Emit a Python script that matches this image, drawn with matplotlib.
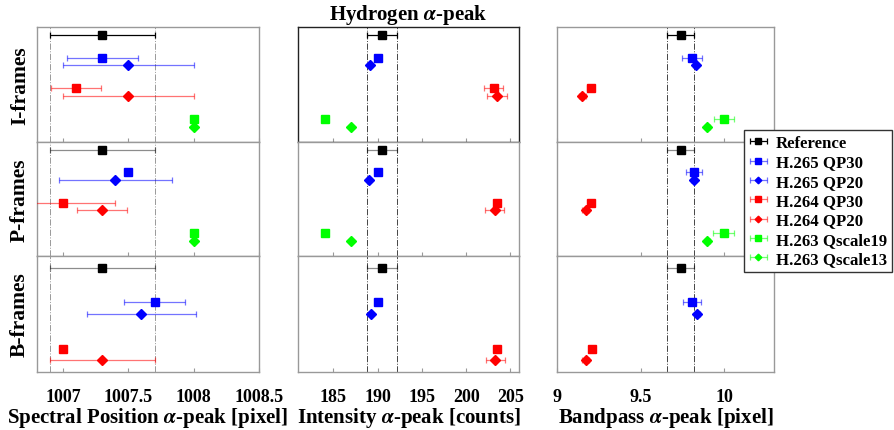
import matplotlib
matplotlib.use('Agg')
import matplotlib.pyplot as plt
from matplotlib.colors import to_rgba

# series (same order in every panel)
series_labels = ['Reference', 'H.265 QP30', 'H.265 QP20', 'H.264 QP30',
                 'H.264 QP20', 'H.263 Qscale19', 'H.263 Qscale13']
series_colors = ['black', 'blue', 'blue', 'red', 'red', '#00ff00', '#00ff00']
series_markers = ['s', 's', 'D', 's', 'D', 's', 'D']
row_slots = [1, 4, 5, 8, 9, 12, 13]
frame_labels = ['I-frames', 'P-frames', 'B-frames']

# spectral position [pixel]
pos_I = [1007.3, 1007.3, 1007.5, 1007.1, 1007.5, 1008.0, 1008.0]
pos_I_err = [0.4, 0.27, 0.5, 0.19, 0.5, 0.0, 0.0]
pos_P = [1007.3, 1007.5, 1007.4, 1007.0, 1007.3, 1008.0, 1008.0]
pos_P_err = [0.4, 0.0, 0.43, 0.4, 0.19, 0.0, 0.0]
pos_B = [1007.3, 1007.7, 1007.6, 1007.0, 1007.3]
pos_B_err = [0.4, 0.235, 0.42, 0.0, 0.4]

# intensity [counts]
int_I = [190.45, 190.0, 189.1, 203.1, 203.5, 184.0, 187.0]
int_I_err = [1.7, 0.1, 0.1, 1.05, 1.1, 0.1, 0.1]
int_P = [190.45, 190.0, 189.0, 203.5, 203.2, 184.0, 187.0]
int_P_err = [1.7, 0.1, 0.15, 0.3, 1.1, 0.1, 0.1]
int_B = [190.45, 190.0, 189.2, 203.5, 203.3]
int_B_err = [1.7, 0.1, 0.2, 0.3, 1.05]

# bandpass [pixel]
bp_I = [9.74, 9.81, 9.83, 9.20, 9.15, 10.0, 9.90]
bp_I_err = [0.083, 0.06, 0.015, 0.02, 0.02, 0.062, 0.015]
bp_P = [9.74, 9.82, 9.82, 9.20, 9.17, 10.0, 9.90]
bp_P_err = [0.083, 0.047, 0.015, 0.015, 0.02, 0.063, 0.015]
bp_B = [9.74, 9.81, 9.84, 9.21, 9.17]
bp_B_err = [0.083, 0.054, 0.015, 0.01, 0.02]

x_labels = ['Spectral Position $\\alpha$-peak [pixel]',
            'Intensity $\\alpha$-peak [counts]',
            'Bandpass $\\alpha$-peak [pixel]']
x_ticks = [[1007, 1007.5, 1008, 1008.5],
           [185, 190, 195, 200, 205],
           [9, 9.5, 10]]
x_ticklabels = [['1007', '1007.5', '1008', '1008.5'],
                ['185', '190', '195', '200', '205'],
                ['9', '9.5', '10']]
x_limits = [(1006.8, 1008.5), (181, 206), (9.0, 10.3)]

columns = [[(pos_I, pos_I_err), (pos_P, pos_P_err), (pos_B, pos_B_err)],
           [(int_I, int_I_err), (int_P, int_P_err), (int_B, int_B_err)],
           [(bp_I, bp_I_err), (bp_P, bp_P_err), (bp_B, bp_B_err)]]

plt.rcParams['font.family'] = ['Liberation Serif', 'DejaVu Serif']
plt.rcParams['font.weight'] = 'bold'
plt.rcParams['mathtext.fontset'] = 'stix'

W, H = 894, 431
fig = plt.figure(figsize=(W / 100, H / 100), dpi=100)

col_left = [37, 298, 557.3]
col_right = [259, 519.3, 774]
row_edge = [28, 143, 257, 373]
vline_color = ['#999999', '#444444', '#444444']

legend_handles = None
for c in range(3):
    for r in range(3):
        ax = fig.add_axes([col_left[c] / W, 1 - row_edge[r + 1] / H,
                           (col_right[c] - col_left[c]) / W,
                           (row_edge[r + 1] - row_edge[r]) / H])
        vals, errs = columns[c][r]
        # band of the reference value
        ax.axvline(vals[0] - errs[0], color=vline_color[c], ls='-.', lw=0.7, zorder=1)
        ax.axvline(vals[0] + errs[0], color=vline_color[c], ls='-.', lw=0.7, zorder=1)
        handles = []
        for i in range(len(vals)):
            ealpha = 1.0 if (i == 0 and r == 0) else (0.45 if i == 0 else 0.55)
            h = ax.errorbar(vals[i], row_slots[i], xerr=errs[i],
                            fmt=series_markers[i], color=series_colors[i],
                            ecolor=to_rgba(series_colors[i], ealpha),
                            ms=5.5 if series_markers[i] == 's' else 4.8,
                            elinewidth=0.9, capsize=2.5, capthick=0.9, zorder=3)
            handles.append(h)
        if legend_handles is None:
            legend_handles = handles
        ax.set_xlim(*x_limits[c])
        ax.set_ylim(15 if len(vals) == 7 else 10, 0)
        ax.set_yticks([])
        ax.set_xticks(x_ticks[c])
        ax.tick_params(axis='x', direction='in', length=3, color='#999999',
                       pad=11.5, labelsize=13)
        if r == 2:
            ax.set_xticklabels(x_ticklabels[c])
            ax.set_xlabel(x_labels[c], fontsize=15, fontweight='bold', labelpad=0)
        else:
            ax.set_xticklabels([])
        spine_col = '#222222' if (c == 1 and r == 0) else '#999999'
        for s in ax.spines.values():
            s.set_color(spine_col)
            s.set_linewidth(1.0)

for r in range(3):
    yc = 1 - (row_edge[r] + row_edge[r + 1]) / 2 / H
    fig.text(20 / W, yc, frame_labels[r], rotation=90, ha='center', va='center',
             fontsize=15.5, fontweight='bold')

fig.text(408.5 / W, 1 - 15 / H, 'Hydrogen $\\alpha$-peak', ha='center', va='center',
         fontsize=15, fontweight='bold')

leg = fig.legend(legend_handles, series_labels, loc='upper left',
                 bbox_to_anchor=(744 / W, 1 - 131 / H), fontsize=12.1,
                 frameon=True, fancybox=False, framealpha=1, edgecolor='#333333',
                 borderpad=0.3, labelspacing=0.2, handlelength=1.1,
                 handletextpad=0.5, borderaxespad=0, markerscale=0.7)
leg.get_frame().set_linewidth(1.0)

fig.savefig('out.png', dpi=100)
